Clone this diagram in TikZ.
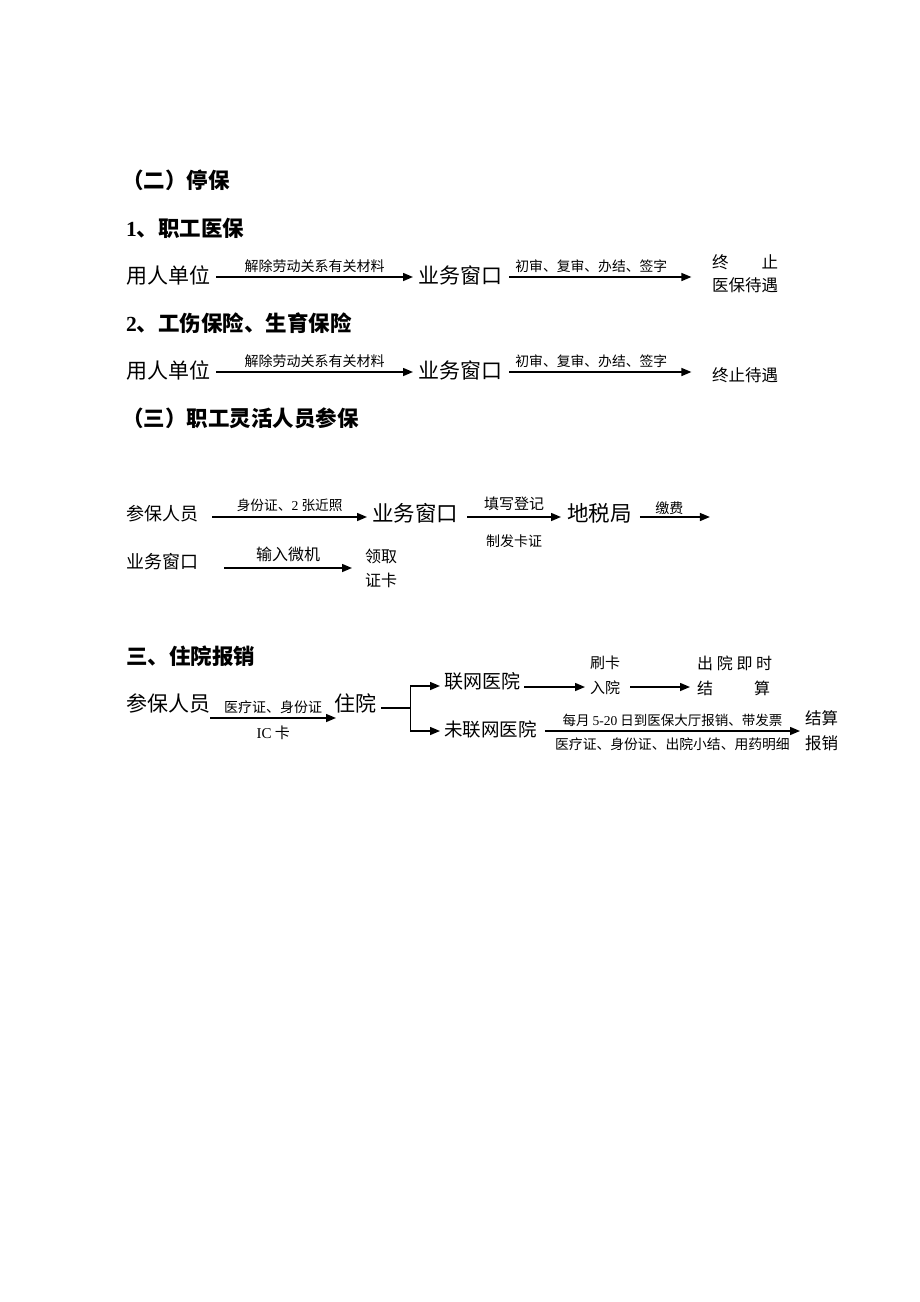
\documentclass[tikz,border=0pt]{standalone}
\usepackage{fontspec}
\setmainfont{Liberation Serif}
\newfontfamily\cjk{Noto Sans CJK SC}
\usetikzlibrary{arrows.meta}
\newcommand\fs[1]{\fontsize{#1}{#1}\selectfont}

\begin{document}
\begin{tikzpicture}[x=1pt, y=-1pt,
	every node/.style={inner sep=0pt, anchor=west},
	txt/.style={font=\cjk\fs{#1}},
	lab/.style={font=\cjk\fs{#1}},
	head/.style={font=\cjk\bfseries\fs{21.5}},
	arr/.style={line width=1.5pt, -{Triangle[length=10pt,width=8pt]}}]
\useasboundingbox (0,0) rectangle (920,1302);
% headings
\node[head] (h1) at (122,180) {（二）停保};
\node[head] (h11) at (126,228) {{\rmfamily 1}、职工医保};
\node[head] (h12) at (126,323) {{\rmfamily 2}、工伤保险、生育保险};
\node[head] (h2) at (122,418) {（三）职工灵活人员参保};
\node[head] (h3) at (126,656) {三、住院报销};
% stop insurance, two rows
\foreach \y/\n in {275/1, 370/2} {
	\node[txt=21] (u\n) at (126,\y) {用人单位};
	\node[txt=21] (w\n) at (418,\y) {业务窗口};
	\draw[arr] ([xshift=6pt,yshift=-2pt]u\n.east)
		-- node[lab=14, above=4pt] {解除劳动关系有关材料} ([xshift=-5pt,yshift=-2pt]w\n.west);
	\draw[arr] ([xshift=7pt,yshift=-2pt]w\n.east) -- ++(182,0) coordinate (t\n)
		node[lab=13.8, above=4pt, pos=0.45] {初审、复审、办结、签字};
}
\node[txt=16.5] (e1) at (712,262) {\makebox[66pt][s]{终\hfill 止}};
\node[txt=16.5] (e1b) at (712,285) {医保待遇};
\node[txt=16.5] (e2) at (712,375) {终止待遇};
% flexible staff
\node[txt=18] (p3) at (126,514) {参保人员};
\node[txt=21.5] (w3) at (372,513) {业务窗口};
\node[txt=21.5] (d3) at (567,513) {地税局};
\draw[arr] ([xshift=14pt,yshift=-3pt]p3.east)
	-- node[lab=13.7, above=5pt] {身份证、{\rmfamily 2} 张近照} ([xshift=-5pt,yshift=-4pt]w3.west);
\draw[arr] ([xshift=9pt,yshift=-4pt]w3.east)
	-- node[lab=15, above=6pt] {填写登记} node[lab=14, below=17pt] {制发卡证} ([xshift=-6pt,yshift=-4pt]d3.west);
\draw[arr] ([xshift=8pt,yshift=-4pt]d3.east) -- ++(70,0) coordinate (t3)
	node[lab=14, above=2pt, pos=0.42] {缴费};
\node[txt=18] (w4) at (126,562) {业务窗口};
\node[txt=16] (g4) at (365,556) {领取};
\node[txt=16] (g4b) at (365,580) {证卡};
\draw[arr] ([xshift=26pt,yshift=-6pt]w4.east)
	-- node[lab=16, above=5pt] {输入微机} ([xshift=-13pt,yshift=-12pt]g4.west);
% hospital reimbursement
\node[txt=21] (p5) at (126,703) {参保人员};
\node[txt=21] (z5) at (334,703) {住院};
\draw[arr] ([yshift=-15pt]p5.east)
	-- node[lab=14, above=4pt] {医疗证、身份证} node[lab=15, below=7pt] {{\rmfamily IC} 卡} ([xshift=2pt,yshift=-15pt]z5.west);
\draw[line width=1.5pt] ([xshift=5pt,yshift=-5pt]z5.east) -- ++(29,0) coordinate (b5);
\node[txt=19] (n5) at (444,681) {联网医院};
\node[txt=18.5] (m5) at (444,729) {未联网医院};
\draw[arr] (b5) |- ([xshift=-4pt,yshift=-5pt]n5.west);
\draw[arr] (b5) |- ([xshift=-4pt,yshift=-2pt]m5.west);
\node[txt=15] (s5) at (590,663) {刷卡};
\node[txt=15] (r5) at (590,688) {入院};
\node[txt=16] (c5) at (697,663) {\makebox[75pt][s]{出\hfill 院\hfill 即\hfill 时}};
\node[txt=16] (j5) at (697,688) {\makebox[73pt][s]{结\hfill 算}};
\draw[arr] ([xshift=4pt,yshift=-6pt]n5.east) coordinate (q5) -- ([xshift=-5pt]q5 -| r5.west);
\draw[arr] ([xshift=10pt]q5 -| r5.east) -- ([xshift=-7pt]q5 -| j5.west);
\node[txt=16.5] (k5) at (805,718) {结算};
\node[txt=16.5] (k5b) at (805,743) {报销};
\draw[arr] ([xshift=8pt,yshift=-2pt]m5.east)
	-- node[lab=13.5, above=4pt] {每月 {\rmfamily 5-20} 日到医保大厅报销、带发票}
	node[lab=13.8, below=6pt] {医疗证、身份证、出院小结、用药明细} ([xshift=-5pt,yshift=-13pt]k5.west);
\end{tikzpicture}
\end{document}
